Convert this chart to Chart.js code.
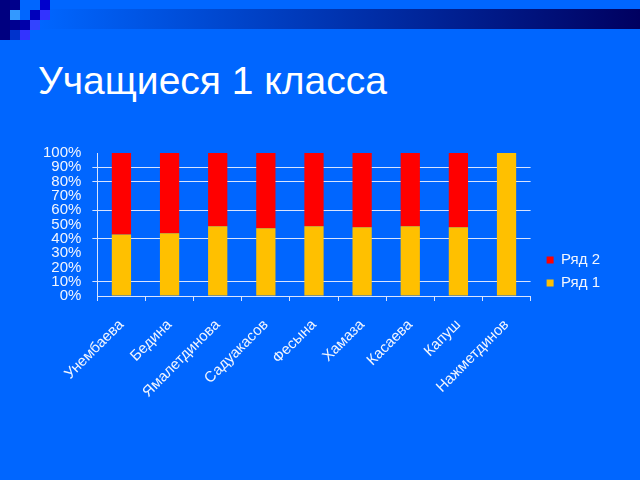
<!DOCTYPE html>
<html>
<head>
<meta charset="utf-8">
<script src="https://cdn.jsdelivr.net/npm/chart.js@4"></script>
<style>
  body { margin: 0; width: 640px; height: 480px; background: #0066ff; overflow: hidden; position: relative; font-family: "Liberation Sans", Arial, sans-serif; }
  .sq { position: absolute; width: 10px; height: 10px; }
  #topbar { position: absolute; left: 40px; top: 9px; width: 600px; height: 20px; background: linear-gradient(to right, #0066ff, #000060); }
  #title { position: absolute; left: 38px; top: 59px; color: #fff; font-size: 39px; white-space: nowrap; }
  #wrap { position: absolute; left: 0; top: 133px; width: 640px; height: 273px; }
</style>
</head>
<body>
<div id="topbar"></div>
<div class="sq" style="left:0;top:0;height:40px;background:#000080"></div>
<div class="sq" style="left:10px;top:0;background:#00008b"></div>
<div class="sq" style="left:10px;top:10px;background:#3399ff"></div>
<div class="sq" style="left:10px;top:20px;background:#000090"></div>
<div class="sq" style="left:10px;top:30px;background:#0033cc"></div>
<div class="sq" style="left:20px;top:20px;background:#0000aa"></div>
<div class="sq" style="left:20px;top:30px;background:#3333ff"></div>
<div class="sq" style="left:30px;top:10px;background:#0000bb"></div>
<div class="sq" style="left:30px;top:20px;background:#3344ff"></div>
<div class="sq" style="left:40px;top:0;background:#0000cc"></div>
<div class="sq" style="left:40px;top:10px;background:#3333ff"></div>
<div id="title">Учащиеся 1 класса</div>
<div id="wrap"><canvas id="myChart"></canvas></div>
<script>
// pupils and their shares (percent of 100% stacked bar)
const categories = ["Унембаева", "Бедина", "Ямалетдинова", "Садуакасов", "Фесына", "Хамаза", "Касаева", "Капуш", "Нажметдинов"];
const row1 = [43, 43.8, 48.8, 47.4, 48.8, 48.1, 48.8, 48.1, 100];
const row2 = [57, 56.2, 51.2, 52.6, 51.2, 51.9, 51.2, 51.9, 0];
const yTicks = [0, 10, 20, 30, 40, 50, 60, 70, 80, 90, 100];
// gridlines that show up in the picture
const shownLines = [10, 40, 60, 80, 90];

const lineColor = "#d8e4ff";
const textColor = "#f2f6ff";
const font = { family: "'Liberation Sans', Arial, sans-serif", size: 15 };
const legendGap = 8; // extra space between plot and legend

// widen the legend box on its left side so the plot ends earlier
const legendSpacer = {
  id: "legendSpacer",
  afterInit(chart) {
    const legend = chart.legend;
    const fit = legend.fit.bind(legend);
    legend.fit = function () {
      fit();
      this.width += legendGap;
    };
  },
  afterLayout(chart) {
    chart.legend.left += legendGap;
  },
};

document.addEventListener("DOMContentLoaded", function () {
  const ctx = document.getElementById("myChart").getContext("2d");

  new Chart(ctx, {
    type: "bar",
    data: {
      labels: categories,
      datasets: [
        { label: "Ряд 1", data: row1, backgroundColor: "#ffc000", barPercentage: 0.4, categoryPercentage: 1 },
        { label: "Ряд 2", data: row2, backgroundColor: "#ff0000", barPercentage: 0.4, categoryPercentage: 1 },
      ],
    },
    plugins: [legendSpacer],
    options: {
      responsive: true,
      maintainAspectRatio: false,
      animation: false,
      layout: { padding: { top: 4, right: 30, left: 32, bottom: 0 } },
      plugins: {
        tooltip: { enabled: false },
        legend: {
          position: "right",
          reverse: true,
          labels: { color: textColor, font: font, boxWidth: 7, boxHeight: 7, padding: 8 },
        },
      },
      scales: {
        x: {
          stacked: true,
          offset: true,
          afterFit: (s) => { s.height = 110; },
          grid: { offset: true, drawOnChartArea: false, tickLength: 5, color: lineColor },
          border: { color: lineColor },
          ticks: { color: textColor, font: font, minRotation: 45, maxRotation: 45, autoSkip: false, padding: 15 },
        },
        y: {
          stacked: true,
          min: 0,
          max: 100,
          afterBuildTicks: (axis) => { axis.ticks = yTicks.map((v) => ({ value: v })); },
          grid: {
            tickLength: 5,
            color: (c) => (shownLines.includes(c.tick.value) ? lineColor : "rgba(0,0,0,0)"),
          },
          border: { color: lineColor },
          ticks: { color: textColor, font: font, padding: 11, autoSkip: false, callback: (v) => v + "%" },
        },
      },
    },
  });
});
</script>
</body>
</html>
